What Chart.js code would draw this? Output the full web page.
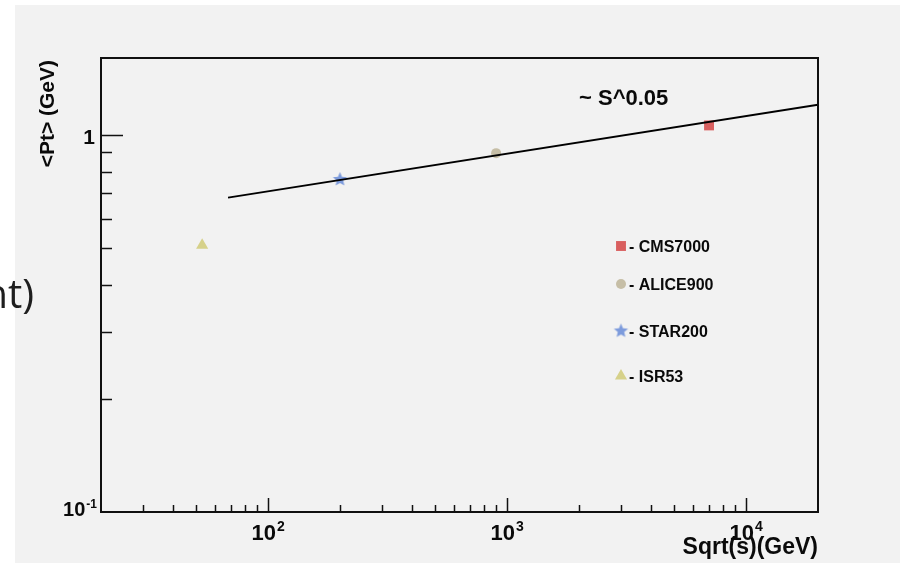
<!DOCTYPE html>
<html>
<head>
<meta charset="utf-8">
<title>Mean Pt vs Sqrt(s)</title>
<script src="https://cdn.jsdelivr.net/npm/chart.js@4.4.0/dist/chart.umd.min.js"></script>
<style>
    html, body { margin: 0; padding: 0; background: #fff; }
    #wrap { width: 900px; height: 563px; position: relative; }
</style>
</head>
<body>
<div id="wrap"><canvas id="ptChart"></canvas></div>
<script>
// ---- data ----
const experiments = ['CMS7000', 'ALICE900', 'STAR200', 'ISR53'];
const sqrtS = [7000, 900, 200, 53];
const meanPt = [1.06, 0.895, 0.762, 0.51];
const markerColors = ['#d95f5f', '#c6bea6', '#7d9bdc', '#d6d18a'];

// fitted power law ~ S^0.05 (end points)
const fitX = [68, 20000];
const fitY = [0.682, 1.203];

// axis ticks
const xMajorTicks = [100, 1000, 10000];
const xMajorLabels = [['10', '2'], ['10', '3'], ['10', '4']];
const xMinorTicks = [30, 40, 50, 60, 70, 80, 90, 200, 300, 400, 500, 600, 700, 800, 900,
    2000, 3000, 4000, 5000, 6000, 7000, 8000, 9000];
const yMajorTicks = [1];
const yMinorTicks = [0.2, 0.3, 0.4, 0.5, 0.6, 0.7, 0.8, 0.9];

const FONT = '"Liberation Sans", Arial, sans-serif';

// filled 5-point star for STAR200
function makeStar(color, r) {
    const c = document.createElement('canvas');
    const s = Math.ceil(r * 2 + 2);
    c.width = s; c.height = s;
    const g = c.getContext('2d');
    g.fillStyle = color;
    g.beginPath();
    for (let i = 0; i < 10; i++) {
        const rad = i % 2 === 0 ? r : r * 0.45;
        const a = -Math.PI / 2 + i * Math.PI / 5;
        const px = s / 2 + rad * Math.cos(a);
        const py = s / 2 + rad * Math.sin(a);
        if (i === 0) g.moveTo(px, py); else g.lineTo(px, py);
    }
    g.closePath();
    g.fill();
    return c;
}

const starImg = makeStar(markerColors[2], 7.5);
const pointStyles = ['rect', 'circle', starImg, 'triangle'];
const pointRadii = [7, 5, 7, 7];

function drawPow(ctx, base, exp, x, y, size, align) {
    ctx.font = 'bold ' + size + 'px ' + FONT;
    const wb = ctx.measureText(base).width;
    const expSize = Math.round(size * 0.62);
    ctx.font = 'bold ' + expSize + 'px ' + FONT;
    const we = ctx.measureText(exp).width;
    const total = wb + we + 1;
    let left = x - total / 2;
    if (align === 'right') left = x - total;
    ctx.textAlign = 'left';
    ctx.font = 'bold ' + size + 'px ' + FONT;
    ctx.fillText(base, left, y);
    ctx.font = 'bold ' + expSize + 'px ' + FONT;
    ctx.fillText(exp, left + wb + 1, y - size * 0.42);
}

const rootStyle = {
    id: 'rootStyle',
    beforeDraw(chart) {
        const ctx = chart.ctx;
        ctx.save();
        ctx.fillStyle = '#ffffff';
        ctx.fillRect(0, 0, chart.width, chart.height);
        ctx.fillStyle = '#f2f2f2';
        ctx.fillRect(15, 5, chart.width - 15, chart.height - 5);
        ctx.restore();
    },
    afterDraw(chart) {
        const ctx = chart.ctx;
        const a = chart.chartArea;
        const xs = chart.scales.x;
        const ys = chart.scales.y;
        ctx.save();

        // frame
        ctx.strokeStyle = '#111';
        ctx.lineWidth = 2;
        ctx.strokeRect(a.left, a.top, a.right - a.left, a.bottom - a.top);

        // ticks pointing inside
        ctx.lineWidth = 1.5;
        ctx.beginPath();
        xMajorTicks.forEach(v => {
            const px = Math.round(xs.getPixelForValue(v)) + 0.5;
            ctx.moveTo(px, a.bottom); ctx.lineTo(px, a.bottom - 14);
        });
        xMinorTicks.forEach(v => {
            const px = Math.round(xs.getPixelForValue(v)) + 0.5;
            ctx.moveTo(px, a.bottom); ctx.lineTo(px, a.bottom - 7);
        });
        yMajorTicks.forEach(v => {
            const py = Math.round(ys.getPixelForValue(v)) + 0.5;
            ctx.moveTo(a.left, py); ctx.lineTo(a.left + 22, py);
        });
        yMinorTicks.forEach(v => {
            const py = Math.round(ys.getPixelForValue(v)) + 0.5;
            ctx.moveTo(a.left, py); ctx.lineTo(a.left + 11, py);
        });
        ctx.stroke();

        // tick labels
        ctx.fillStyle = '#0a0a0a';
        ctx.textBaseline = 'alphabetic';
        xMajorTicks.forEach((v, i) => {
            drawPow(ctx, xMajorLabels[i][0], xMajorLabels[i][1], xs.getPixelForValue(v), a.bottom + 28, 22, 'center');
        });
        drawPow(ctx, '10', '-1', a.left - 4, a.bottom + 4, 20, 'right');
        ctx.font = 'bold 21px ' + FONT;
        ctx.textAlign = 'right';
        ctx.fillText('1', a.left - 6, ys.getPixelForValue(1) + 9);

        // axis titles
        ctx.font = 'bold 23px ' + FONT;
        ctx.textAlign = 'right';
        ctx.fillText('Sqrt(s)(GeV)', a.right, a.bottom + 42);
        ctx.save();
        ctx.translate(54, a.top + 2);
        ctx.rotate(-Math.PI / 2);
        ctx.font = 'bold 21px ' + FONT;
        ctx.textAlign = 'right';
        ctx.fillText('<Pt> (GeV)', 0, 0);
        ctx.restore();

        // fit annotation
        ctx.font = 'bold 22px ' + FONT;
        ctx.textAlign = 'left';
        ctx.fillText('~ S^0.05', a.left + 478, a.top + 47);

        // legend
        const legX = a.left + 520;
        const legY = [a.top + 188, a.top + 226, a.top + 273, a.top + 318];
        experiments.forEach((name, i) => {
            ctx.fillStyle = markerColors[i];
            ctx.strokeStyle = markerColors[i];
            Chart.helpers.drawPoint(ctx, {
                pointStyle: pointStyles[i],
                radius: pointRadii[i],
                rotation: 0,
                borderWidth: 0
            }, legX, legY[i]);
            ctx.fillStyle = '#0a0a0a';
            ctx.font = 'bold 16px ' + FONT;
            ctx.textAlign = 'left';
            ctx.fillText('- ' + name, legX + 8, legY[i] + 6);
        });

        // clipped slide text at the far left
        ctx.fillStyle = '#1e1e1e';
        ctx.font = '40px "Open Sans", sans-serif';
        ctx.textAlign = 'right';
        ctx.fillText('nt)', 34, 308);

        ctx.restore();
    }
};

const datasets = experiments.map((name, i) => ({
    label: name,
    data: [{ x: sqrtS[i], y: meanPt[i] }],
    pointStyle: pointStyles[i],
    pointRadius: pointRadii[i],
    pointBackgroundColor: markerColors[i],
    pointBorderColor: markerColors[i],
    pointBorderWidth: 0,
    showLine: false
}));

datasets.unshift({
    label: 'fit',
    data: fitX.map((x, i) => ({ x: x, y: fitY[i] })),
    showLine: true,
    borderColor: '#000',
    borderWidth: 2,
    pointRadius: 0,
    fill: false
});

new Chart(document.getElementById('ptChart'), {
    type: 'scatter',
    data: { datasets: datasets },
    options: {
        responsive: true,
        maintainAspectRatio: false,
        animation: false,
        layout: { padding: { left: 101, top: 58, right: 82, bottom: 51 } },
        plugins: {
            legend: { display: false },
            tooltip: { enabled: false }
        },
        scales: {
            x: { type: 'logarithmic', min: 20, max: 20000, display: false },
            y: { type: 'logarithmic', min: 0.1, max: 1.6, display: false }
        }
    },
    plugins: [rootStyle]
});
</script>
</body>
</html>
